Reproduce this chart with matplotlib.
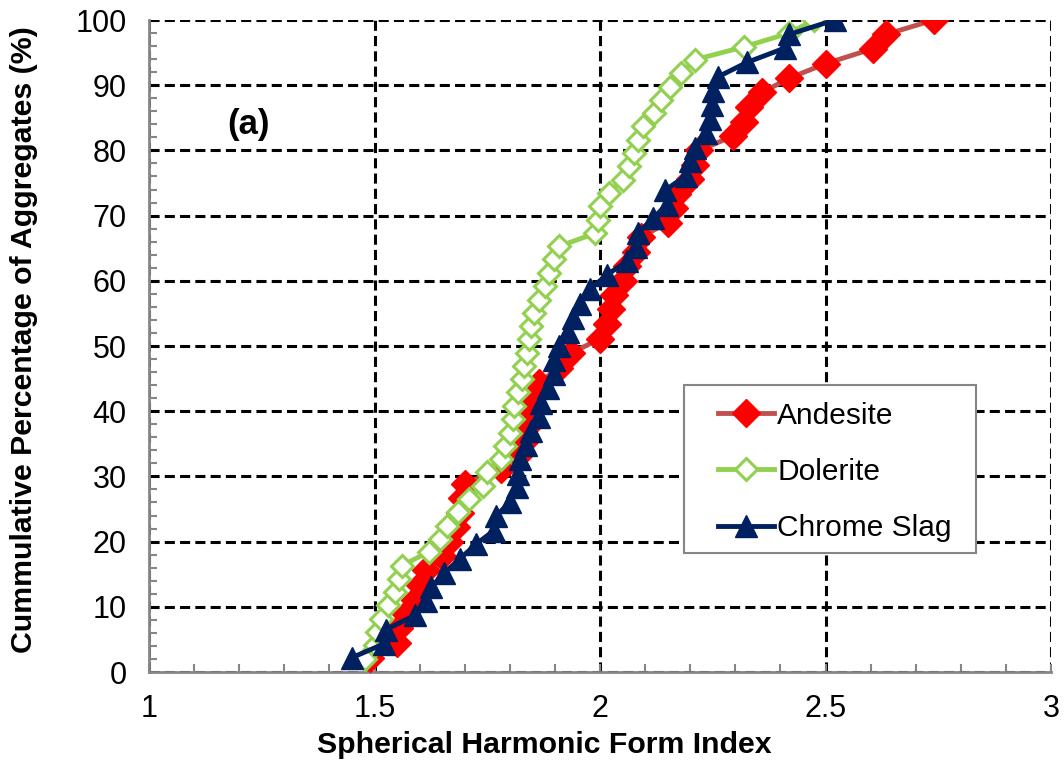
import matplotlib
matplotlib.use("Agg")
import matplotlib.pyplot as plt
from matplotlib.patches import Rectangle
from matplotlib.ticker import MultipleLocator

plt.rcParams['font.family'] = ['Liberation Sans', 'DejaVu Sans']

# Andesite
and_x = [1.49, 1.55, 1.555, 1.57, 1.59, 1.60, 1.615, 1.65, 1.665, 1.68, 1.69, 1.695,
         1.70, 1.78, 1.82, 1.835, 1.84, 1.845, 1.85, 1.865, 1.91, 1.935, 2.00, 2.015,
         2.025, 2.03, 2.05, 2.06, 2.08, 2.09, 2.15, 2.165, 2.17, 2.20, 2.21, 2.22,
         2.295, 2.32, 2.33, 2.36, 2.42, 2.50, 2.605, 2.635, 2.74]
and_y = [2.2, 4.4, 6.7, 8.9, 11.1, 13.3, 15.6, 17.8, 20.0, 22.2, 24.4, 26.7,
         28.9, 31.1, 33.3, 35.6, 37.8, 40.0, 42.2, 44.4, 46.7, 48.9, 51.1, 53.3,
         55.6, 57.8, 60.0, 62.2, 64.4, 66.7, 68.9, 71.1, 73.3, 75.6, 77.8, 80.0,
         82.2, 84.4, 86.7, 88.9, 91.1, 93.3, 95.6, 97.8, 100.0]

# Dolerite
dol_x = [1.48, 1.50, 1.505, 1.515, 1.53, 1.545, 1.555, 1.56, 1.62, 1.645, 1.66, 1.685,
         1.71, 1.74, 1.75, 1.78, 1.79, 1.80, 1.806, 1.81, 1.818, 1.827, 1.832, 1.838,
         1.842, 1.847, 1.853, 1.865, 1.877, 1.888, 1.898, 1.91, 1.99, 1.995, 2.0, 2.02,
         2.05, 2.065, 2.075, 2.085, 2.095, 2.12, 2.135, 2.155, 2.18, 2.21, 2.32, 2.42, 2.475]
dol_y = [2.0, 4.1, 6.1, 8.2, 10.2, 12.2, 14.3, 16.3, 18.4, 20.4, 22.4, 24.5,
         26.5, 28.6, 30.6, 32.7, 34.7, 36.7, 38.8, 40.8, 42.9, 44.9, 46.9, 49.0,
         51.0, 53.1, 55.1, 57.1, 59.2, 61.2, 63.3, 65.3, 67.3, 69.4, 71.4, 73.5,
         75.5, 77.6, 79.6, 81.6, 83.7, 85.7, 87.8, 89.8, 91.8, 93.9, 95.9, 98.0, 100.0]

# Chrome Slag
chr_x = [1.45, 1.52, 1.525, 1.59, 1.615, 1.625, 1.655, 1.69, 1.725, 1.765, 1.77, 1.80,
         1.815, 1.818, 1.822, 1.835, 1.848, 1.865, 1.87, 1.885, 1.898, 1.898, 1.91, 1.93,
         1.94, 1.955, 1.978, 2.015, 2.06, 2.08, 2.085, 2.118, 2.148, 2.145, 2.19, 2.20,
         2.21, 2.235, 2.243, 2.248, 2.25, 2.262, 2.326, 2.41, 2.42, 2.52]
chr_y = [2.2, 4.3, 6.5, 8.7, 10.9, 13.0, 15.2, 17.4, 19.6, 21.7, 23.9, 26.1,
         28.3, 30.4, 32.6, 34.8, 37.0, 39.1, 41.3, 43.5, 45.7, 47.8, 50.0, 52.2,
         54.3, 56.5, 58.7, 60.9, 63.0, 65.2, 67.4, 69.6, 71.7, 73.9, 76.1, 78.3,
         80.4, 82.6, 84.8, 87.0, 89.1, 91.3, 93.5, 95.7, 97.8, 100.0]

fig = plt.figure(figsize=(10.64, 7.69), dpi=100)
ax = fig.add_axes([149/1064, 1 - 672/769, 902/1064, 652/769])

ax.plot(and_x, and_y, color='#C0504D', lw=3.5, marker='D', ms=14,
        mfc='#FF0000', mec='#FF0000', label='Andesite', zorder=3)
ax.plot(dol_x, dol_y, color='#92D050', lw=3.5, marker='D', ms=11.5,
        mfc='white', mec='#92D050', mew=2.2, label='Dolerite', zorder=4)
ax.plot(chr_x, chr_y, color='#002060', lw=3.5, marker='^', ms=16,
        mfc='#002060', mec='#002060', label='Chrome Slag', zorder=5)

ax.set_xlim(1, 3)
ax.set_ylim(0, 100)
ax.xaxis.set_minor_locator(MultipleLocator(0.1))
ax.yaxis.set_major_locator(MultipleLocator(10))
ax.yaxis.set_minor_locator(MultipleLocator(2))
ax.set_xticks([1, 1.5, 2, 2.5, 3])
ax.set_xticklabels(['1', '1.5', '2', '2.5', '3'])

ax.grid(True, which='major', color='black', ls=(0, (3.3, 1.7)), lw=2.2)
ax.set_axisbelow(True)
for s in ['top', 'right']:
    ax.spines[s].set_visible(False)
for s in ['left', 'bottom']:
    ax.spines[s].set_color('#868686')
    ax.spines[s].set_linewidth(2)
ax.tick_params(which='both', direction='in', color='#868686', width=1.5)
ax.tick_params(which='major', length=0, labelsize=22, pad=16)
ax.tick_params(which='minor', length=6)
ax.tick_params(axis='x', which='major', length=6)

ax.set_xlabel('Spherical Harmonic Form Index', fontsize=21.8, fontweight='bold')
ax.set_ylabel('Cummulative Percentage of Aggregates (%)', fontsize=21.8, fontweight='bold')
ax.xaxis.set_label_coords((544 - 149) / 902, (672 - 731) / 652)
ax.yaxis.set_label_coords((38 - 149) / 902, (672 - 340) / 652)

ax.text(1.22, 84, '(a)', fontsize=25, fontweight='bold', ha='center', va='center')

# legend box drawn separately so the entries can sit further in
box = Rectangle((0.5931, 0.1825), 0.3237, 0.2577, transform=ax.transAxes,
                facecolor='white', edgecolor='#868686', lw=1.5, zorder=6)
ax.add_patch(box)
leg = ax.legend(loc='upper left', bbox_to_anchor=(0.613, 0.440), fontsize=21.5,
                frameon=False, borderaxespad=0, handlelength=1.85,
                labelspacing=0.95, borderpad=0.55, handletextpad=0.12)
leg.set_zorder(7)

fig.savefig('out.png', dpi=100)
